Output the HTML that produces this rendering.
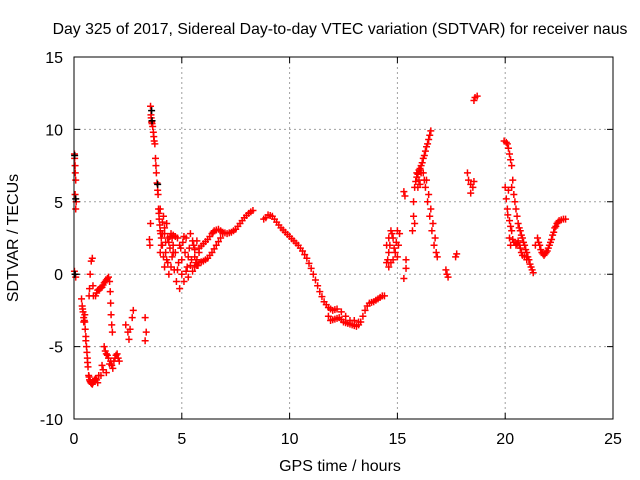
<!DOCTYPE html>
<html><head><meta charset="utf-8"><style>
body{margin:0;background:#fff;}
svg{display:block;font-family:"Liberation Sans",sans-serif;}
</style></head><body>
<svg id="chart" width="640" height="480">
<text x="340" y="34" text-anchor="middle" font-size="15.8">Day 325 of 2017, Sidereal Day-to-day VTEC variation (SDTVAR) for receiver naus</text>
<text x="340" y="471" text-anchor="middle" font-size="16">GPS time / hours</text>
<text transform="translate(18,238) rotate(-90)" text-anchor="middle" font-size="16">SDTVAR / TECUs</text>
<g id="grid"></g>
<g id="ticks"></g>
<g id="marks"></g>
<rect x="74" y="57" width="539" height="362" fill="none" stroke="#000"/>
</svg>
<script>
const xTicks=[0,5,10,15,20,25];
const yTicks=[-10,-5,0,5,10,15];
const hours=[0.02,0.03,0.05,0.06,0.08,0.05,0.1,0.08,0.02,0.06,0.08,
0.35,0.38,0.42,0.45,0.5,0.52,0.55,0.58,0.62,0.65,0.68,0.72,0.78,0.85,0.92,1.0,1.1,1.15,0.7,0.72,0.75,0.8,0.85,0.88,0.9,
1.0,1.05,1.1,1.2,1.3,1.4,1.5,1.6,
1.65,1.68,1.7,1.72,1.75,1.78,
1.4,1.5,1.6,1.7,1.8,1.9,2.0,2.1,1.3,1.25,1.5,
2.4,2.5,2.55,2.6,2.7,2.75,3.3,3.35,3.3,
3.55,3.57,3.6,3.65,3.7,3.75,3.78,3.82,3.85,3.9,3.92,3.95,4.0,4.05,3.5,3.52,3.55,
4.0,4.1,4.2,4.2,4.3,4.35,4.4,4.45,4.5,4.55,4.6,4.65,4.7,4.75,4.8,4.85,4.9,4.95,5.0,5.05,5.1,5.15,5.2,5.25,5.3,5.35,5.4,5.45,5.5,5.55,5.6,5.65,5.7,4.1,4.3,4.15,4.0,4.25,4.55,5.75,5.8,
5.8,6.0,6.2,6.4,6.5,6.7,6.9,7.1,7.3,7.5,7.7,7.9,8.1,8.3,5.6,5.8,6.0,6.2,6.4,6.6,6.8,6.9,
8.9,9.0,9.2,9.4,9.6,9.8,10.0,10.2,10.4,10.6,10.8,11.0,11.2,11.4,11.6,11.8,12.0,12.2,11.8,11.9,12.1,12.3,12.5,12.7,12.9,13.1,13.3,13.5,13.7,13.9,14.1,14.3,12.4,12.6,12.8,
14.5,14.6,14.6,14.7,14.8,14.9,15.0,15.1,14.6,14.8,15.0,14.5,
15.3,15.35,15.4,15.4,15.3,
15.7,15.75,15.75,15.8,15.9,16.0,16.1,16.2,16.3,16.4,16.5,16.55,15.9,16.05,15.8,16.2,16.3,16.4,16.5,16.6,16.7,16.8,16.85,
17.25,17.3,17.35,17.7,17.75,
18.25,18.3,18.4,18.5,18.55,18.4,18.55,18.6,18.7,
19.95,20.1,20.2,20.3,20.35,20.4,20.5,20.6,20.7,20.8,20.9,21.0,21.1,21.2,21.3,20.0,20.05,20.1,20.2,20.3,20.35,20.5,20.6,20.7,20.8,21.0,20.15,20.3,20.2,20.25,
21.5,21.6,21.7,21.8,21.9,22.0,22.1,22.2,22.3,22.4,22.5,22.7,22.8,21.4,
5.9,6.1,6.3,6.45,6.6,6.8,7.0,7.2,7.4,7.6,7.8,8.0,8.2,5.7,5.9,6.1,6.3,6.5,6.7,
8.8,9.1,9.3,9.5,9.7,9.9,10.1,10.3,10.5,10.7,10.9,11.1,11.3,11.5,11.7,11.9,12.1,12.0,12.2,12.4,12.6,12.8,13.0,13.2,13.4,13.6,13.8,14.0,14.2,14.4,13.0,13.2,
4.05,4.15,4.25,4.35,4.45,4.5,4.6,4.7,4.8,4.9,5.0,5.1,5.2,5.3,5.4,5.5,5.6,5.7,4.2,4.4,4.6,4.1,
3.58,3.62,3.68,3.72,3.8,3.88,3.94,3.98,4.02,
0.4,0.48,0.55,0.6,0.63,0.7,0.75,0.82,0.88,0.95,1.05,0.5,0.45,
1.45,1.55,1.65,1.75,1.85,1.95,2.05,1.35,
1.15,1.25,1.35,1.45,1.55,
15.85,15.95,16.05,16.15,16.25,16.35,16.45,16.0,16.1,15.95,16.25,16.35,16.45,16.55,16.65,16.75,
20.05,20.15,20.25,20.45,20.55,20.65,20.75,20.85,20.95,21.05,21.15,21.25,20.12,20.25,20.4,20.55,20.65,20.75,20.9,
21.55,21.65,21.75,21.85,21.95,22.05,22.15,22.25,22.35,22.45,22.6,
14.55,14.65,14.75,14.85,14.95,15.05,14.7];
const sdtvar=[8.3,8.0,7.5,7,6.5,5.5,5,4.5,0.2,0,-0.2,
-1.7,-2.2,-2.6,-3.0,-3.3,-3.8,-4.3,-5,-5.8,-6.4,-7,-7.3,-7.5,-7.6,-7.4,-7.2,-7.5,-7.0,-1.5,-1,0,0.9,1.1,-0.8,-1.5,
-1.5,-1.3,-1.1,-1.0,-0.9,-0.6,-0.4,-0.2,
-0.5,-1.2,-2,-2.8,-3.5,-4,
-5.0,-5.5,-5.8,-6,-6.5,-5.8,-5.5,-6,-6.3,-7,-6.8,
-3.5,-4,-4.5,-3.8,-3,-2.5,-3,-4,-4.6,
11.6,11,10.5,10.2,9.5,9,8,7,6.3,5.5,4.5,3.8,3,2.5,2.4,2.0,3.5,
1.5,2,0.5,2.8,1.0,2.5,0,1.8,2.8,1.2,2.0,0.3,1.5,-0.5,2.5,0.8,-1.0,1.8,0,2.2,-0.5,1.5,2.5,0.5,-0.2,1.8,2.8,1.0,0.2,2.0,1.2,0.8,2.3,2.8,3.5,4.0,4.5,1.5,2.5,0.6,1.5,
1.8,2.1,2.4,2.8,3.0,3.1,2.9,2.8,2.9,3.1,3.5,3.9,4.2,4.4,0.5,0.8,0.9,1.1,1.5,2.0,2.5,2.8,
3.9,4.1,4.0,3.6,3.2,2.9,2.6,2.3,2.0,1.6,1.1,0.4,-0.4,-1.2,-1.9,-2.3,-2.5,-2.4,-2.9,-3.2,-3.1,-3.0,-3.3,-3.4,-3.5,-3.6,-3.3,-2.5,-2.0,-1.9,-1.7,-1.5,-2.6,-2.9,-3.2,
0.8,1.5,2.5,3,2.5,1.5,3.0,2.8,0.5,1.0,1.2,2.0,
5.7,5.4,1.0,0.4,-0.3,
3.0,4,5,6.0,6.7,7.2,7.5,8,8.5,9.0,9.6,9.9,7.0,6.2,3.5,7,6,5,4,3,2,1.5,1.2,
0.3,0,-0.2,1.2,1.4,
7,6.5,6.2,6.0,6.4,5.6,12,12.2,12.3,
9.2,9,8.3,7.5,6.5,5.5,4.5,3.5,3,2.5,2,1.5,1,0.5,0.1,6.0,5.2,4.5,3.7,3,2.4,2,2.3,1.8,1.3,1.0,5.8,6.0,2.5,2.0,
2.5,2.0,1.5,1.3,1.5,1.8,2.2,2.7,3.2,3.5,3.7,3.8,3.8,2.0,
1.95,2.25,2.6,2.9,3.05,3.0,2.85,2.85,3.0,3.3,3.7,4.05,4.3,0.6,0.85,1.0,1.3,1.75,2.25,
3.8,4.05,3.8,3.4,3.05,2.75,2.45,2.15,1.8,1.35,0.75,0,-0.8,-1.55,-2.1,-2.4,-2.45,-3.15,-3.05,-3.15,-3.35,-3.45,-3.55,-3.5,-2.9,-2.2,-1.95,-1.8,-1.6,-1.5,-3.2,-3.3,
2.0,1.2,2.2,0.8,2.6,0.5,1.5,2.6,0.3,2.0,1.0,2.6,0.2,1.2,0.6,2.3,1.7,1.0,3.2,2.2,2.7,3.6,
10.8,10.4,9.8,9.2,7.5,5.8,4.2,3.4,2.8,
-2.4,-3.2,-4.6,-5.4,-6.1,-7.1,-7.4,-7.55,-7.5,-7.3,-7.3,-2.8,-3.3,
-5.3,-5.6,-6.2,-6.3,-6.0,-5.6,-5.8,-6.6,
-1.05,-0.95,-0.75,-0.5,-0.3,
6.4,6.9,7.3,7.7,8.2,8.8,9.3,6.5,7.0,6.0,6.5,6.5,5.5,4.5,3.5,2.5,
9.1,8.7,7.9,5.0,4.0,3.2,2.7,2.2,1.7,1.2,0.7,0.3,4.1,3.3,2.2,2.1,2.0,1.5,1.2,
2.2,1.7,1.4,1.4,1.6,2.0,2.4,2.9,3.3,3.6,3.75,
1.0,2.0,2.8,1.8,2.2,2.0,0.8];
const blackHours=[0.03,0.08,0.05,3.6,3.62,3.88];
const blackValues=[8.2,5.2,0,11.3,10.6,6.2];
const X0=74,X1=613,Y0=419,Y1=57;
function xs(t){return X0+(t-0)/(25-0)*(X1-X0);}
function ys(v){return Y0-(v+10)/(15+10)*(Y0-Y1);}
const NS="http://www.w3.org/2000/svg";
function mk(tag,attrs,parent){const e=document.createElementNS(NS,tag);for(const k in attrs)e.setAttribute(k,attrs[k]);parent.appendChild(e);return e;}
const grid=document.getElementById('grid'),ticks=document.getElementById('ticks'),marks=document.getElementById('marks');
xTicks.forEach(t=>{const x=xs(t);
 if(t>0&&t<25){const g=mk('line',{x1:x,x2:x,y1:Y1,y2:Y0,stroke:'#a0a0a0','stroke-dasharray':'2,3'},grid);
 
 }
 const tk=mk('path',{d:`M${x},${Y0}v-6M${x},${Y1}v6`,stroke:'#000'},ticks);
 
 
 const l=mk('text',{x:x,y:444,'text-anchor':'middle','font-size':16},ticks);l.textContent=t;
 
 
});
yTicks.forEach(v=>{const y=ys(v);
 if(v>-10&&v<15){const g=mk('line',{x1:X0,x2:X1,y1:y,y2:y,stroke:'#a0a0a0','stroke-dasharray':'2,3'},grid);
 
 }
 const tk=mk('path',{d:`M${X0},${y}h6M${X1},${y}h-6`,stroke:'#000'},ticks);
 
 
 const l=mk('text',{x:63,y:y+6,'text-anchor':'end','font-size':16},ticks);l.textContent=v;
 
 
});
function plus(t,v,c){const x=xs(t),y=ys(v);
 const p=mk('path',{d:`M${x-3.5},${y}h7M${x},${y-3.5}v7`,stroke:c,'stroke-width':1.5},marks);
 
 
}
hours.forEach((t,i)=>plus(t,sdtvar[i],'#ff0000'));
blackHours.forEach((t,i)=>plus(t,blackValues[i],'#000'));
</script>
</body></html>
